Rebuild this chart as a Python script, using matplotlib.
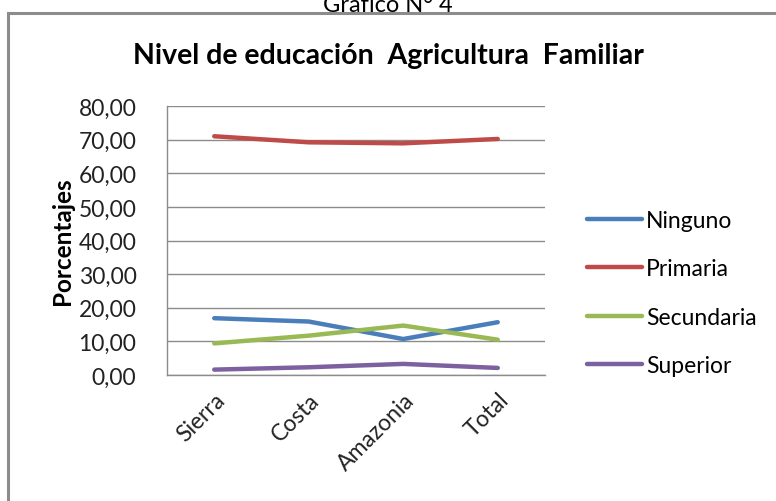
import matplotlib
matplotlib.use('Agg')
import matplotlib.pyplot as plt
from matplotlib.patches import Rectangle
from matplotlib.ticker import FuncFormatter

categorias = ['Sierra', 'Costa', 'Amazonia', 'Total']
ninguno = [16.9, 15.9, 10.7, 15.7]
primaria = [71.0, 69.2, 68.9, 70.2]
secundaria = [9.4, 11.7, 14.7, 10.5]
superior = [1.6, 2.3, 3.3, 2.1]

series = [
    ('Ninguno', ninguno, '#4A7EBB'),
    ('Primaria', primaria, '#BE4B48'),
    ('Secundaria', secundaria, '#98B954'),
    ('Superior', superior, '#7D60A0'),
]

plt.rcParams['font.family'] = ['Lato', 'DejaVu Sans']

fig = plt.figure(figsize=(7.76, 5.02), dpi=100)
ax = fig.add_axes([167 / 776, 1 - 376 / 502, 378 / 776, 269 / 502])

x = list(range(len(categorias)))
for nombre, valores, color in series:
    ax.plot(x, valores, color=color, lw=3.2, label=nombre, solid_capstyle='round')

ax.set_xlim(-0.5, len(categorias) - 0.5)
ax.set_ylim(0, 80)
ax.set_yticks(range(0, 81, 10))
ax.yaxis.set_major_formatter(FuncFormatter(lambda v, p: f'{v:.2f}'.replace('.', ',')))
ax.set_xticks(x)
ax.set_xticklabels(categorias, rotation=45, ha='right', rotation_mode='anchor')
ax.tick_params(axis='y', length=0, pad=22, labelsize=16.5, colors='#222222')
ax.tick_params(axis='x', length=0, pad=10, labelsize=16.5, colors='#222222')
ax.grid(axis='y', color='#8c8c8c', lw=1)
ax.set_axisbelow(True)
for lado in ['top', 'right']:
    ax.spines[lado].set_visible(False)
for lado in ['left', 'bottom']:
    ax.spines[lado].set_color('#8c8c8c')
    ax.spines[lado].set_linewidth(1)

ax.set_ylabel('Porcentajes', fontsize=17.5, fontweight='bold', labelpad=3)

fig.text(0.5, 1 - 64 / 502, 'Nivel de educación  Agricultura  Familiar',
         ha='center', va='baseline', fontsize=20.5, fontweight='bold')
fig.text(0.5, 1 - 12 / 502, 'Gráfico N° 4', ha='center', va='baseline', fontsize=17)

fig.patches.append(Rectangle((8 / 776, -0.1), 1.2, 1 - 14 / 502 + 0.1,
                             transform=fig.transFigure, fill=False,
                             edgecolor='#8c8c8c', lw=2.2))

fig.legend(loc='upper left', bbox_to_anchor=(566 / 776, 1 - 190 / 502),
           frameon=False, fontsize=16.5, handlelength=2.4, handletextpad=0.2,
           labelspacing=1.2)

fig.savefig('out.png', dpi=100)
